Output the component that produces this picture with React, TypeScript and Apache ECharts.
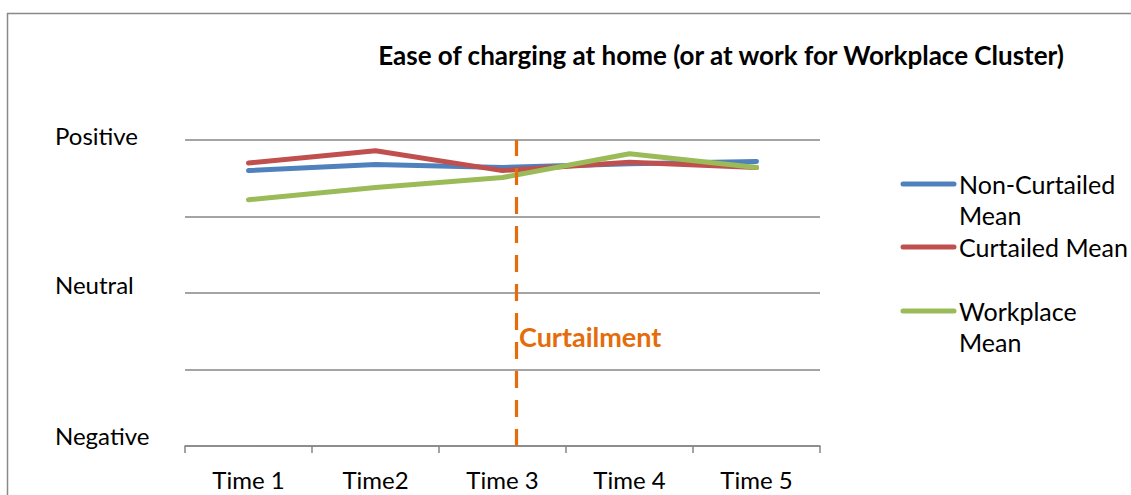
import React, { useEffect, useRef } from "react";
import * as echarts from "echarts";

const categories = ["Time 1", "Time2", "Time 3", "Time 4", "Time 5"];
const yTickLabels: Record<number, string> = { 1: "{g|Negative}", 2: "", 3: "{n|Neutral}", 4: "", 5: "{p|Positive}" };
const nonCurtailed = [4.6, 4.68, 4.64, 4.69, 4.72];
const curtailed = [4.7, 4.86, 4.6, 4.71, 4.64];
const workplace = [4.22, 4.38, 4.51, 4.82, 4.64];
const seriesNames = ["Non-Curtailed Mean", "Curtailed Mean", "Workplace Mean"];
const legendLabels = ["Non-Curtailed\nMean", "Curtailed Mean", "Workplace\nMean"];
const colors = ["#4F81BD", "#C0504D", "#9BBB59"];
const curtailmentPos = 2.606; // position on 0..5 x scale
const curtailmentLabelY = 2.43;

const FONT = "Lato, 'Liberation Sans', sans-serif";

export default function App() {
  const ref = useRef<HTMLDivElement>(null);
  useEffect(() => {
    if (!ref.current) return;
    const chart = echarts.init(ref.current, null, { renderer: "svg" });
    const values = [nonCurtailed, curtailed, workplace];
    const legendY = [184, 247, 311];
    const lab = { fontSize: 24, fontFamily: FONT, color: "#000" };
    chart.setOption({
      animation: false,
      backgroundColor: "#fff",
      textStyle: { fontFamily: FONT },
      title: {
        text: "Ease of charging at home (or at work for Workplace Cluster)",
        left: 716,
        top: 37,
        textAlign: "center",
        textStyle: { fontFamily: FONT, fontWeight: "bold", fontSize: 26, color: "#000" },
      },
      grid: { left: 185, right: 311, top: 140, bottom: 49 },
      xAxis: [
        {
          type: "category",
          data: categories,
          boundaryGap: true,
          axisLine: { lineStyle: { color: "#868686", width: 1.5 } },
          axisTick: { show: true, length: 7, lineStyle: { color: "#868686", width: 1.5 } },
          axisLabel: { color: "#000", fontSize: 24, margin: 21, fontFamily: FONT },
        },
        { type: "value", min: 0, max: 5, show: false },
      ],
      yAxis: {
        type: "value",
        min: 1,
        max: 5,
        interval: 1,
        axisLine: { show: false },
        axisTick: { show: false },
        splitLine: { lineStyle: { color: "#868686", width: 1.5 } },
        axisLabel: {
          color: "#000",
          fontSize: 24,
          fontFamily: FONT,
          align: "left",
          margin: 130,
          formatter: (v: number) => yTickLabels[v] ?? "",
          rich: {
            p: { ...lab, padding: [0, 0, 10, 0] },
            n: { ...lab, padding: [0, 0, 18, 0] },
            g: { ...lab, padding: [0, 0, 22, 0] },
          },
        },
      },
      series: [
        ...values.map((d, i) => ({
          name: seriesNames[i],
          type: "line",
          data: d,
          symbol: "none",
          lineStyle: { color: colors[i], width: 5, cap: "round", join: "round" },
          itemStyle: { color: colors[i] },
          z: 3,
        })),
        {
          type: "line",
          xAxisIndex: 1,
          data: [],
          symbol: "none",
          markLine: {
            silent: true,
            symbol: "none",
            label: { show: false },
            lineStyle: { color: "#E46C0A", width: 3.2, type: [17, 12] },
            data: [{ xAxis: curtailmentPos }],
          },
          markPoint: {
            silent: true,
            symbol: "circle",
            symbolSize: 0,
            label: {
              show: true,
              position: "right",
              distance: 3,
              formatter: "Curtailment",
              color: "#E46C0A",
              fontWeight: "bold",
              fontSize: 27,
              fontFamily: FONT,
            },
            data: [{ coord: [curtailmentPos, curtailmentLabelY] }],
          },
          z: 5,
        },
      ],
      graphic: [
        {
          type: "rect",
          shape: { x: 7.5, y: 13.5, width: 1300, height: 700 },
          style: { fill: "none", stroke: "#898989", lineWidth: 1.5 },
          silent: true,
        },
        ...legendLabels.flatMap((t, i) => [
          {
            type: "line",
            shape: { x1: 903, y1: legendY[i], x2: 954, y2: legendY[i] },
            style: { stroke: colors[i], lineWidth: 5, lineCap: "round" },
          },
          {
            type: "text",
            x: 959,
            y: legendY[i] - 15.5,
            style: {
              text: t,
              fill: "#000",
              fontSize: 25,
              fontFamily: FONT,
              lineHeight: 31,
              textVerticalAlign: "top",
            },
          },
        ]),
      ],
    });
    return () => chart.dispose();
  }, []);
  return <div ref={ref} style={{ position: "fixed", left: 0, top: 0, width: 1131, height: 495 }} />;
}
